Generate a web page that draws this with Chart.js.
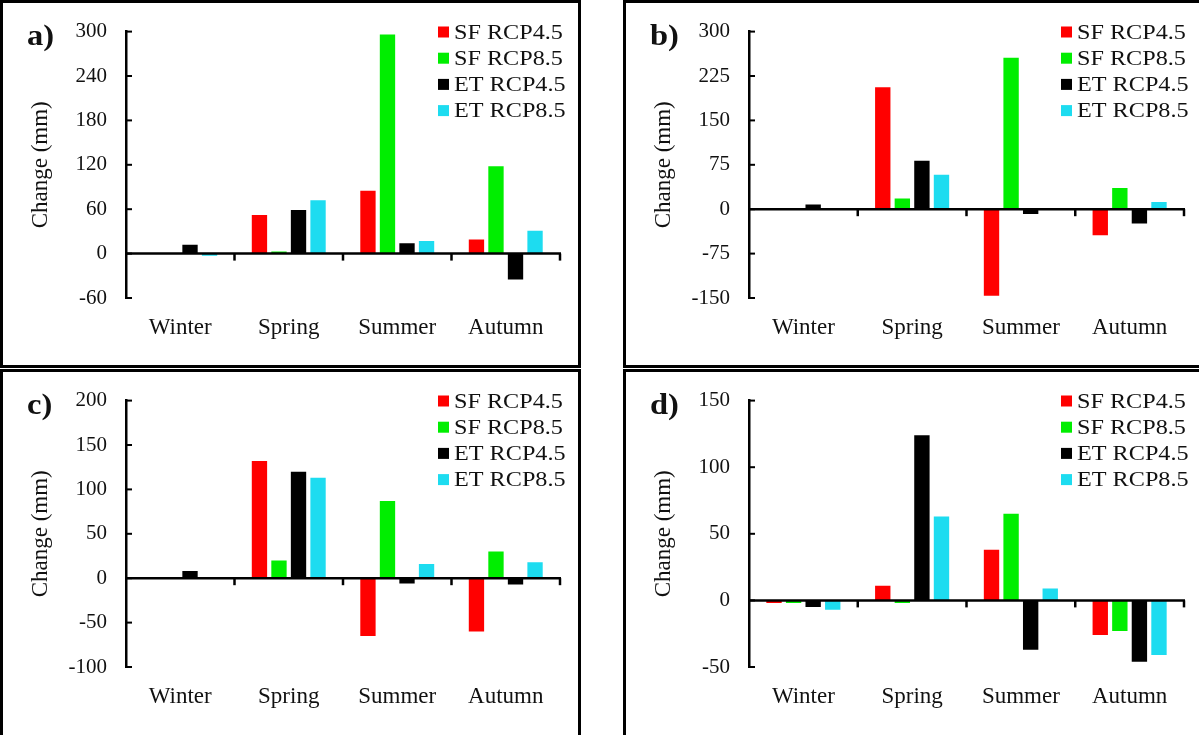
<!DOCTYPE html>
<html>
<head>
<meta charset="utf-8">
<script src="https://cdn.jsdelivr.net/npm/chart.js@4.4.0/dist/chart.umd.min.js"></script>
<style>
    html, body { margin: 0; padding: 0; background: #fff; }
    body { width: 1199px; height: 735px; position: relative; overflow: hidden; }
    canvas { position: absolute; }
</style>
</head>
<body>
<canvas id="chartA"></canvas>
<canvas id="chartB"></canvas>
<canvas id="chartC"></canvas>
<canvas id="chartD"></canvas>
<script>
const seasons = ['Winter', 'Spring', 'Summer', 'Autumn'];
const seriesNames = ['SF RCP4.5', 'SF RCP8.5', 'ET RCP4.5', 'ET RCP8.5'];
const seriesColors = ['#ff0000', '#00ee00', '#000000', '#1ddcf0'];

// a)
const sf45A = [0, 52, 85, 19];
const sf85A = [0, 3, 296, 118];
const et45A = [12, 59, 14, -35];
const et85A = [-3, 72, 17, 31];
const yTicksA = [-60, 0, 60, 120, 180, 240, 300];

// b)
const sf45B = [0, 206, -146, -44];
const sf85B = [0, 18, 256, 36];
const et45B = [8, 82, -8, -24];
const et85B = [0, 58, 0, 12];
const yTicksB = [-150, -75, 0, 75, 150, 225, 300];

// c)
const sf45C = [0, 132, -65, -60];
const sf85C = [0, 20, 87, 30];
const et45C = [8, 120, -6, -7];
const et85C = [0, 113, 16, 18];
const yTicksC = [-100, -50, 0, 50, 100, 150, 200];

// d)
const sf45D = [-2, 11, 38, -26];
const sf85D = [-2, -2, 65, -23];
const et45D = [-5, 124, -37, -46];
const et85D = [-7, 63, 9, -41];
const yTicksD = [-50, 0, 50, 100, 150];

const TEXT = '#111';
const SERIF = "'Liberation Serif', 'Times New Roman', serif";

// frame, zero axis, inward ticks, panel letter and legend
const panelFrame = {
    id: 'panelFrame',
    afterDraw(chart, args, opts) {
        const { ctx, chartArea: area, scales: { x, y } } = chart;
        const w = chart.width, h = chart.height;
        const line = (x1, y1, x2, y2) => { ctx.beginPath(); ctx.moveTo(x1, y1); ctx.lineTo(x2, y2); ctx.stroke(); };
        ctx.save();
        ctx.strokeStyle = '#000';

        ctx.lineWidth = 2;
        y.ticks.forEach(t => {
            const py = y.getPixelForValue(t.value);
            line(area.left, py, area.left + 6, py);
        });

        const y0 = y.getPixelForValue(0);
        ctx.lineWidth = 2.5;
        line(area.left, y0, area.right + 1, y0);
        const half = (x.getPixelForValue(1) - x.getPixelForValue(0)) / 2;
        for (let i = 0; i < seasons.length; i++) {
            const px = x.getPixelForValue(i) + half;
            line(px, y0, px, y0 + 7);
        }

        ctx.lineWidth = 3;
        const s = opts.sides;
        if (s.includes('l')) line(1.5, 0, 1.5, h);
        if (s.includes('t')) line(0, 1.5, w, 1.5);
        if (s.includes('r')) line(w - 1.5, 0, w - 1.5, h);
        if (s.includes('b')) line(0, h - 1.5, w, h - 1.5);

        // letters and legend text are a little wide in this figure
        ctx.fillStyle = TEXT;
        ctx.save();
        ctx.translate(27, 45);
        ctx.scale(1.12, 1);
        ctx.font = `bold 29px ${SERIF}`;
        ctx.textBaseline = 'alphabetic';
        ctx.fillText(opts.letter, 0, 0);
        ctx.restore();

        ctx.font = `22px ${SERIF}`;
        ctx.textBaseline = 'middle';
        chart.data.datasets.forEach((ds, i) => {
            const cy = 32 + i * 26.2;
            ctx.fillStyle = ds.backgroundColor;
            ctx.fillRect(438, cy - 5.5, 11, 11);
            ctx.fillStyle = TEXT;
            ctx.save();
            ctx.translate(454, cy + 1);
            ctx.scale(1.1, 1);
            ctx.fillText(ds.label, 0, 0);
            ctx.restore();
        });
        ctx.restore();
    }
};

function panelChart(id, letter, series, yTicks, box) {
    const canvas = document.getElementById(id);
    canvas.width = box.w;
    canvas.height = box.h;
    canvas.style.left = box.x + 'px';
    canvas.style.top = box.y + 'px';

    return new Chart(canvas, {
        type: 'bar',
        data: {
            labels: seasons,
            datasets: series.map((d, i) => ({
                label: seriesNames[i],
                data: d,
                backgroundColor: seriesColors[i],
                categoryPercentage: 0.72,
                barPercentage: 0.785
            }))
        },
        options: {
            responsive: false,
            animation: false,
            layout: { padding: { top: 31, right: box.w - box.right, bottom: 0, left: 0 } },
            plugins: {
                legend: { display: false },
                tooltip: { enabled: false },
                panelFrame: { letter, sides: box.sides }
            },
            scales: {
                x: {
                    grid: { display: false, drawTicks: false },
                    border: { display: false },
                    ticks: { color: TEXT, font: { family: SERIF, size: 23 }, padding: 16 },
                    afterFit: s => { s.height = box.h - 298; }
                },
                y: {
                    min: yTicks[0],
                    max: yTicks[yTicks.length - 1],
                    grid: { display: false, drawTicks: false },
                    border: { display: true, color: '#000', width: 2.5 },
                    ticks: { stepSize: yTicks[1] - yTicks[0], color: TEXT, font: { family: SERIF, size: 21 }, padding: 19 },
                    title: {
                        display: true,
                        text: 'Change (mm)',
                        color: TEXT,
                        font: { family: SERIF, size: 23 },
                        padding: { top: 27, bottom: 0 }
                    },
                    afterFit: s => { s.width = 126; }
                }
            }
        },
        plugins: [panelFrame]
    });
}

panelChart('chartA', 'a)', [sf45A, sf85A, et45A, et85A], yTicksA, { x: 0, y: 0, w: 581, h: 368, right: 560, sides: 'ltrb' });
panelChart('chartB', 'b)', [sf45B, sf85B, et45B, et85B], yTicksB, { x: 623, y: 0, w: 576, h: 368, right: 561, sides: 'ltb' });
panelChart('chartC', 'c)', [sf45C, sf85C, et45C, et85C], yTicksC, { x: 0, y: 369, w: 581, h: 366, right: 560, sides: 'ltr' });
panelChart('chartD', 'd)', [sf45D, sf85D, et45D, et85D], yTicksD, { x: 623, y: 369, w: 576, h: 366, right: 561, sides: 'lt' });
</script>
</body>
</html>
